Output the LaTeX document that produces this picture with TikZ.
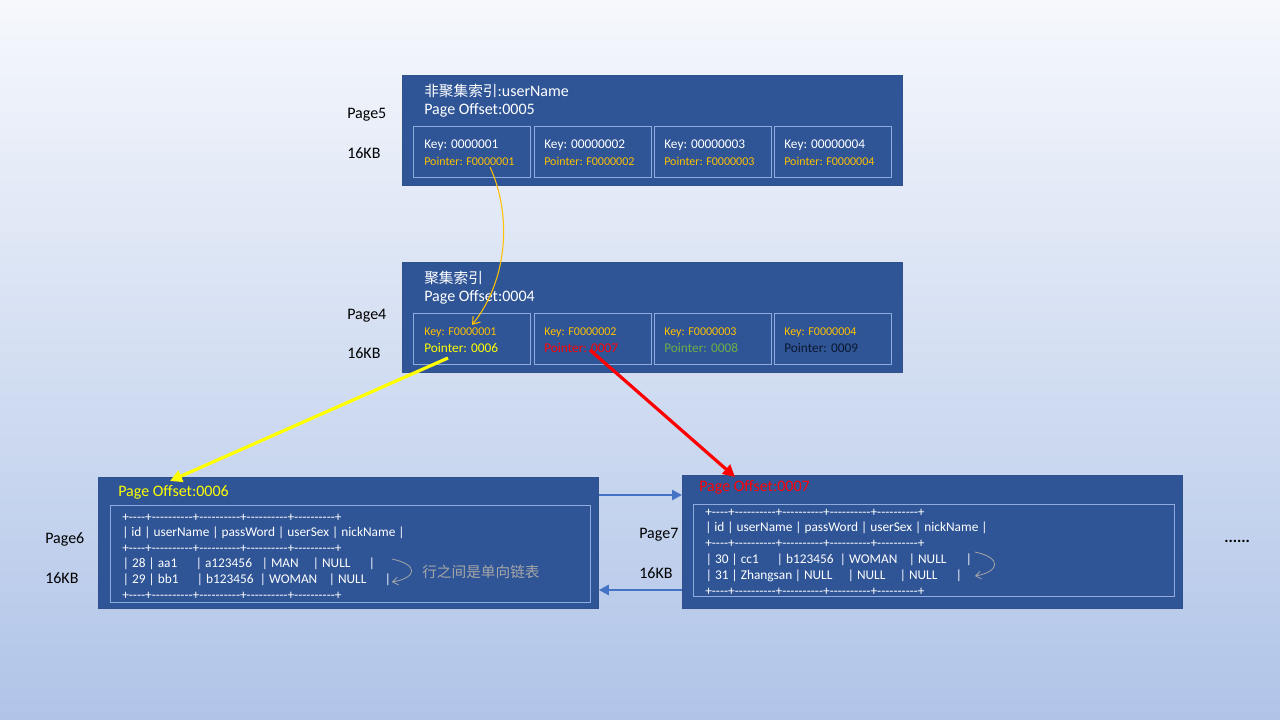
\documentclass[tikz,border=0pt]{standalone}
\usepackage{fontspec}
\setmainfont{Carlito}
\newfontfamily\cjk{Noto Sans CJK SC}
\usetikzlibrary{arrows.meta,calc}
\definecolor{bgtop}{HTML}{F6F8FC}
\definecolor{bgbot}{HTML}{B0C4E8}
\definecolor{boxblue}{HTML}{2F5597}
\definecolor{boxedge}{HTML}{2F528F}
\definecolor{cellline}{HTML}{8FAADC}
\definecolor{keyorange}{HTML}{FFC000}
\definecolor{ptyellow}{HTML}{FFFF00}
\definecolor{ptred}{HTML}{FF0000}
\definecolor{ptgreen}{HTML}{70AD47}
\definecolor{ptdark}{HTML}{0C1830}
\definecolor{linkblue}{HTML}{4472C4}
\definecolor{notegray}{HTML}{A6A6A6}
\newcommand\atx[2]{\makebox[0pt][l]{\hspace*{#1}#2}}
\newcommand\Dq{-\kern0pt-\kern0pt-\kern0pt-}
\newcommand\Dt{\Dq\kern0pt\Dq\kern0pt-\kern0pt-}
\newcommand\sepline{+\kern0pt\Dq\kern0pt+\kern0pt\Dt\kern0pt+\kern0pt\Dt\kern0pt+\kern0pt\Dt\kern0pt+\kern0pt\Dt\kern0pt+}
\begin{document}
\begin{tikzpicture}[x=0.75pt,y=-0.75pt,
  txt/.style={anchor=west, inner sep=0pt, yshift=-1.2pt},
  lbl/.style={txt, font=\fontsize{12}{14}\selectfont},
  wtitle/.style={lbl, text=white},
  pagebox/.style={draw=boxedge, line width=0.6pt, fill=boxblue, anchor=north west, inner sep=0pt, minimum width=375pt},
  cellbox/.style={draw=cellline, line width=0.75pt, anchor=north west, inner sep=0pt, minimum width=87.75pt, minimum height=38.5pt},
  tblbox/.style={draw=cellline, line width=0.75pt, anchor=north west, inner sep=0pt},
  keyw/.style={txt, font=\fontsize{10}{12}\selectfont, text=white},
  keyo/.style={txt, font=\fontsize{9}{11}\selectfont, text=keyorange},
  ptr/.style={txt, font=\fontsize{10}{12}\selectfont},
  row/.style={txt, font=\fontsize{10}{12}\selectfont, text=white},
  fatarrow/.style={line width=2.4pt, -{Triangle[length=9pt,width=9pt]}},
  linkarrow/.style={draw=linkblue, line width=2pt, -{Triangle[length=7.5pt,width=7.5pt]}},
  curl/.style={draw=notegray, line width=0.6pt, -{Straight Barb[length=4pt,width=6pt]}}
]
\shade[top color=bgtop, bottom color=bgbot] (0,0) rectangle (1280,720);
\useasboundingbox (0,0) rectangle (1280,720);

% ---------- Page 5 ----------
\node[pagebox, minimum height=82.5pt] (b5) at (402,75) {};
\node[wtitle] (t5a) at (424,89) {{\cjk\fontsize{11}{14}\selectfont 非聚集索引}:userName};
\node[wtitle] (t5b) at (424,109) {Page Offset:0005};
\node[cellbox] (c51) at (413,126) {};
\node[cellbox] (c52) at (534,126) {};
\node[cellbox] (c53) at (654,126) {};
\node[cellbox] (c54) at (774,126) {};
\node[keyw] (k51) at (424,144) {Key: 0000001};
\node[keyw] (k52) at (544,144) {Key: 00000002};
\node[keyw] (k53) at (664,144) {Key: 00000003};
\node[keyw] (k54) at (784,144) {Key: 00000004};
\node[keyo] (p51) at (424,160) {Pointer: F0000001};
\node[keyo] (p52) at (544,160) {Pointer: F0000002};
\node[keyo] (p53) at (664,160) {Pointer: F0000003};
\node[keyo] (p54) at (784,160) {Pointer: F0000004};
\node[lbl] (l5a) at (347,113) {Page5};
\node[lbl] (l5b) at (347,152) {16KB};

% ---------- Page 4 ----------
\node[pagebox, minimum height=82.5pt] (b4) at (402,262) {};
\node[wtitle] (t4a) at (424,276) {{\cjk\fontsize{11}{14}\selectfont 聚集索引}};
\node[wtitle] (t4b) at (424,296) {Page Offset:0004};
\node[cellbox] (c41) at (413,313) {};
\node[cellbox] (c42) at (534,313) {};
\node[cellbox] (c43) at (654,313) {};
\node[cellbox] (c44) at (774,313) {};
\node[keyo] (k41) at (424,331) {Key: F0000001};
\node[keyo] (k42) at (544,331) {Key: F0000002};
\node[keyo] (k43) at (664,331) {Key: F0000003};
\node[keyo] (k44) at (784,331) {Key: F0000004};
\node[ptr, text=ptyellow] (p41) at (424,346) {Pointer: 0006};
\node[ptr, text=ptred] (p42) at (544,346) {Pointer: 0007};
\node[ptr, text=ptgreen] (p43) at (664,346) {Pointer: 0008};
\node[ptr, text=ptdark] (p44) at (784,346) {Pointer: 0009};
\node[lbl] (l4a) at (347,314) {Page4};
\node[lbl] (l4b) at (347,352) {16KB};

% ---------- Page 6 ----------
\node[pagebox, minimum height=98.25pt] (b6) at (98,477) {};
\node[lbl, text=ptyellow] (t6) at (118,491) {Page Offset:0006};
\node[tblbox, minimum width=360pt, minimum height=72.75pt] (tb6) at (110,505) {};
\node[row] (r61) at (122,516) {\sepline};
\node[row] (r62) at (122,531) {| id | userName | passWord | userSex | nickName |};
\node[row] (r63) at (122,547) {\sepline};
\node[row] (r64) at (122,562) {\atx{0pt}{| 28 | aa1}\atx{54.75pt}{| a123456}\atx{104.25pt}{| MAN}\atx{142.5pt}{| NULL}\atx{184.5pt}{|}};
\node[row] (r65) at (122,578) {\atx{0pt}{| 29 | bb1}\atx{55.5pt}{| b123456}\atx{102.75pt}{| WOMAN}\atx{154.5pt}{| NULL}\atx{196.5pt}{|}};
\node[row] (r66) at (122,594) {\sepline};
\node[lbl, text=notegray] (n6) at (422,570) {\cjk\fontsize{11}{14}\selectfont 行之间是单向链表};
\coordinate (g6a) at (392,559);
\coordinate (g6b) at (392,582);
\draw[curl] (g6a) .. controls (420,565) and (416,578) .. (g6b);
\node[lbl] (l6a) at (45,538) {Page6};
\node[lbl] (l6b) at (45,577) {16KB};

% ---------- Page 7 ----------
\node[pagebox, minimum height=99.75pt] (b7) at (682,475) {};
\node[lbl, text=ptred] (t7) at (699,486) {Page Offset:0007};
\node[tblbox, minimum width=360.75pt, minimum height=69pt] (tb7) at (693,504) {};
\node[row] (r71) at (705,511) {\sepline};
\node[row] (r72) at (705,526) {| id | userName | passWord | userSex | nickName |};
\node[row] (r73) at (705,542) {\sepline};
\node[row] (r74) at (705,558) {\atx{0pt}{| 30 | cc1}\atx{53.25pt}{| b123456}\atx{100.5pt}{| WOMAN}\atx{152.25pt}{| NULL}\atx{195pt}{|}};
\node[row] (r75) at (705,574) {\atx{0pt}{| 31 | Zhangsan}\atx{66.75pt}{| NULL}\atx{106.5pt}{| NULL}\atx{145.5pt}{| NULL}\atx{187.5pt}{|}};
\node[row] (r76) at (705,590) {\sepline};
\coordinate (g7a) at (975,552);
\coordinate (g7b) at (975,576);
\draw[curl] (g7a) .. controls (1003,558) and (999,572) .. (g7b);
\node[lbl] (l7a) at (639,533) {Page7};
\node[lbl] (l7b) at (639,572) {16KB};

\node[lbl, font=\fontsize{12}{14}\selectfont\bfseries] (dots) at (1224,540) {......};

% ---------- connectors ----------
\coordinate (o1) at (490,167);
\coordinate (o2) at (472,325);
\draw[draw=keyorange, line width=0.8pt, -{Straight Barb[length=5pt,width=7pt]}]
  (o1) .. controls (512,215) and (508,280) .. (o2);
\coordinate (y1) at (448,358);
\coordinate (y2) at (170,481);
\draw[fatarrow, draw=ptyellow, fill=ptyellow] (y1) -- (y2);
\coordinate (x1) at (590,350);
\coordinate (x2) at (735,477);
\draw[fatarrow, draw=ptred, fill=ptred] (x1) -- (x2);
\draw[linkarrow] ($(b6.north east)+(0,18)$) -- ($(b7.north west)+(0,20)$);
\draw[linkarrow] ($(b7.north west)+(0,115)$) -- ($(b6.north east)+(0,113)$);
\end{tikzpicture}
\end{document}
